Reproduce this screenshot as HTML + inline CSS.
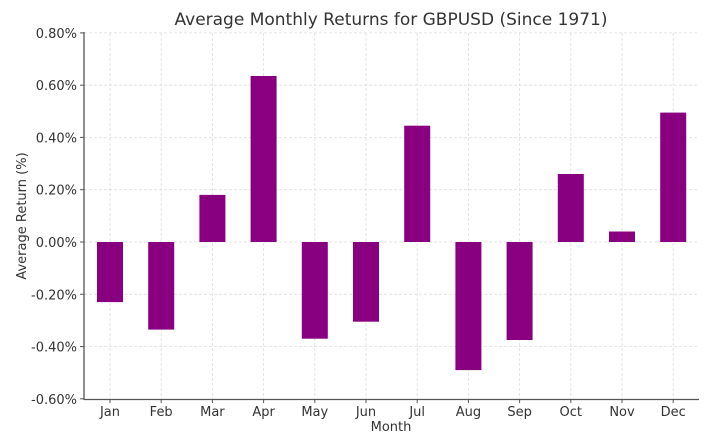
<!DOCTYPE html><html><head><style>body{margin:0;background:#fff}</style></head><body>
<svg width="713" height="440" xmlns="http://www.w3.org/2000/svg" font-family="DejaVu Sans, Liberation Sans, sans-serif">
<rect width="713" height="440" fill="#fff"/>
<g stroke="#ddd" stroke-dasharray="3,2" stroke-width="0.8">
<line x1="84" x2="699" y1="32.9" y2="32.9"/><line x1="84" x2="699" y1="85.2" y2="85.2"/><line x1="84" x2="699" y1="137.4" y2="137.4"/><line x1="84" x2="699" y1="189.7" y2="189.7"/><line x1="84" x2="699" y1="242" y2="242"/><line x1="84" x2="699" y1="294.3" y2="294.3"/><line x1="84" x2="699" y1="346.6" y2="346.6"/>
<line x1="110" x2="110" y1="33" y2="399"/><line x1="161.2" x2="161.2" y1="33" y2="399"/><line x1="212.4" x2="212.4" y1="33" y2="399"/><line x1="263.6" x2="263.6" y1="33" y2="399"/><line x1="314.8" x2="314.8" y1="33" y2="399"/><line x1="366" x2="366" y1="33" y2="399"/><line x1="417.2" x2="417.2" y1="33" y2="399"/><line x1="468.4" x2="468.4" y1="33" y2="399"/><line x1="519.6" x2="519.6" y1="33" y2="399"/><line x1="570.8" x2="570.8" y1="33" y2="399"/><line x1="622" x2="622" y1="33" y2="399"/><line x1="673.2" x2="673.2" y1="33" y2="399"/>
</g>
<g fill="#880080">
<rect x="97" y="242" width="26" height="60.1"/>
<rect x="148.2" y="242" width="26" height="87.6"/>
<rect x="199.4" y="194.9" width="26" height="47.1"/>
<rect x="250.6" y="76" width="26" height="166"/>
<rect x="301.8" y="242" width="26" height="96.7"/>
<rect x="353" y="242" width="26" height="79.7"/>
<rect x="404.2" y="125.7" width="26" height="116.3"/>
<rect x="455.4" y="242" width="26" height="128.1"/>
<rect x="506.6" y="242" width="26" height="98"/>
<rect x="557.8" y="174" width="26" height="68"/>
<rect x="609" y="231.5" width="26" height="10.5"/>
<rect x="660.2" y="112.6" width="26" height="129.4"/>
</g>
<g stroke="#555">
<line x1="80" x2="84" y1="32.9" y2="32.9"/><line x1="80" x2="84" y1="85.2" y2="85.2"/><line x1="80" x2="84" y1="137.4" y2="137.4"/><line x1="80" x2="84" y1="189.7" y2="189.7"/><line x1="80" x2="84" y1="242" y2="242"/><line x1="80" x2="84" y1="294.3" y2="294.3"/><line x1="80" x2="84" y1="346.6" y2="346.6"/><line x1="80" x2="84" y1="398.8" y2="398.8"/>
<line x1="110" x2="110" y1="399" y2="403"/><line x1="161.2" x2="161.2" y1="399" y2="403"/><line x1="212.4" x2="212.4" y1="399" y2="403"/><line x1="263.6" x2="263.6" y1="399" y2="403"/><line x1="314.8" x2="314.8" y1="399" y2="403"/><line x1="366" x2="366" y1="399" y2="403"/><line x1="417.2" x2="417.2" y1="399" y2="403"/><line x1="468.4" x2="468.4" y1="399" y2="403"/><line x1="519.6" x2="519.6" y1="399" y2="403"/><line x1="570.8" x2="570.8" y1="399" y2="403"/><line x1="622" x2="622" y1="399" y2="403"/><line x1="673.2" x2="673.2" y1="399" y2="403"/>
<line x1="84" x2="84" y1="32" y2="400" stroke-width="1.3"/><line x1="84" x2="699" y1="399.5" y2="399.5" stroke-width="1.3"/>
</g>
<g font-size="13" fill="#333" text-anchor="end">
<text x="77" y="37.9">0.80%</text><text x="77" y="90.2">0.60%</text><text x="77" y="142.4">0.40%</text><text x="77" y="194.7">0.20%</text><text x="77" y="247">0.00%</text><text x="77" y="299.3">-0.20%</text><text x="77" y="351.6">-0.40%</text><text x="77" y="403.8">-0.60%</text>
</g>
<g font-size="13" fill="#333" text-anchor="middle">
<text x="110" y="416">Jan</text><text x="161.2" y="416">Feb</text><text x="212.4" y="416">Mar</text><text x="263.6" y="416">Apr</text><text x="314.8" y="416">May</text><text x="366" y="416">Jun</text><text x="417.2" y="416">Jul</text><text x="468.4" y="416">Aug</text><text x="519.6" y="416">Sep</text><text x="570.8" y="416">Oct</text><text x="622" y="416">Nov</text><text x="673.2" y="416">Dec</text>
<text x="391" y="431">Month</text>
<text transform="translate(26,216) rotate(-90)">Average Return (%)</text>
<text x="391" y="25" font-size="17">Average Monthly Returns for GBPUSD (Since 1971)</text>
</g>
</svg></body></html>
